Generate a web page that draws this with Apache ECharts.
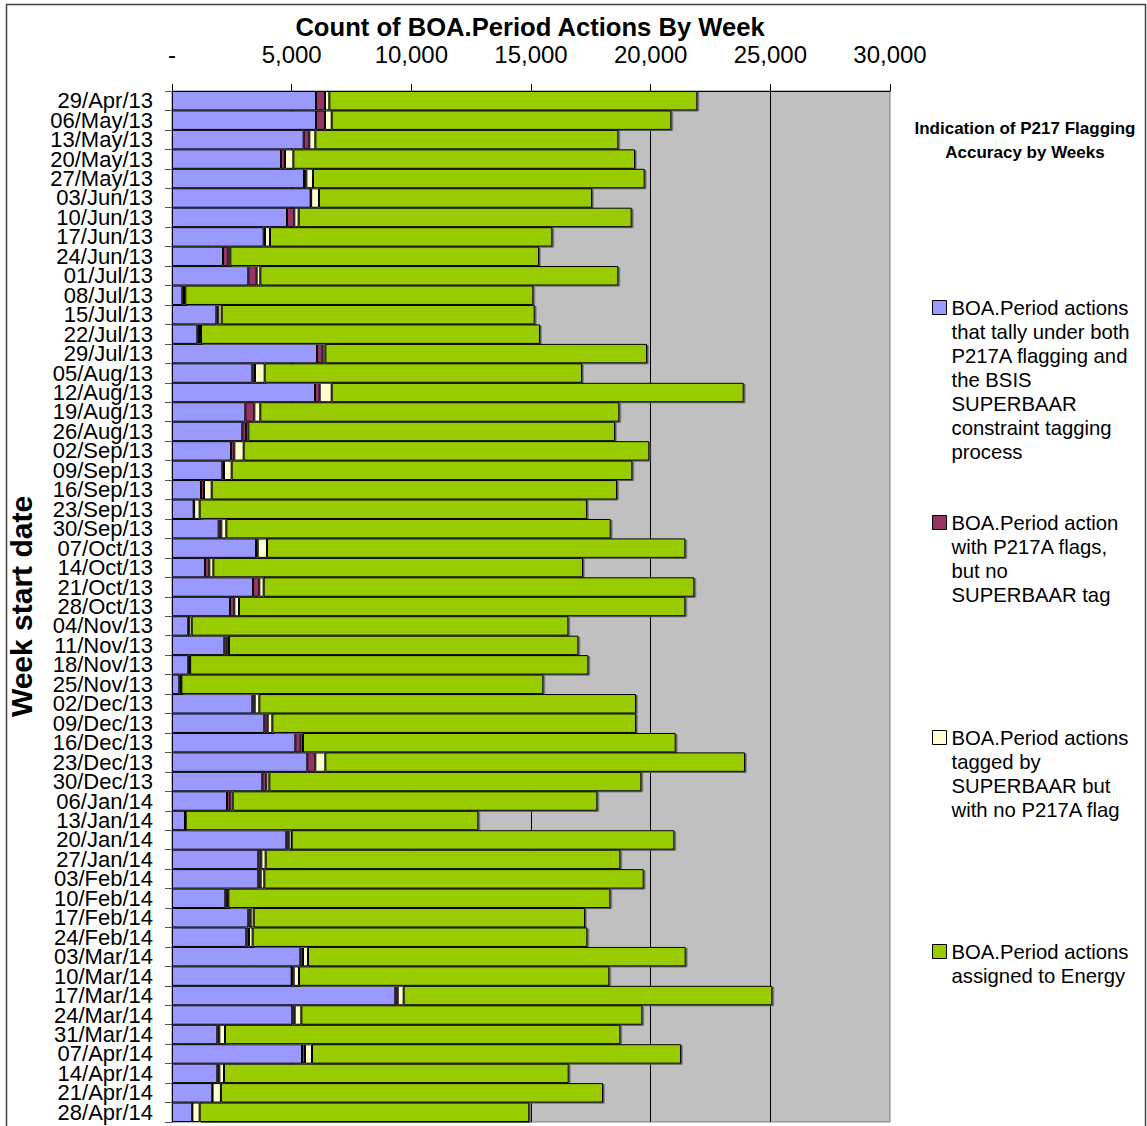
<!DOCTYPE html>
<html>
<head>
<meta charset="utf-8">
<script src="https://cdn.jsdelivr.net/npm/echarts@6/dist/echarts.min.js"></script>
<style>
html,body{margin:0;padding:0;background:#fff;}
#chart{width:1147px;height:1126px;}
</style>
</head>
<body>
<div id="chart"></div>
<script>
const categories = ['29/Apr/13','06/May/13','13/May/13','20/May/13','27/May/13','03/Jun/13','10/Jun/13','17/Jun/13','24/Jun/13','01/Jul/13','08/Jul/13','15/Jul/13','22/Jul/13','29/Jul/13','05/Aug/13','12/Aug/13','19/Aug/13','26/Aug/13','02/Sep/13','09/Sep/13','16/Sep/13','23/Sep/13','30/Sep/13','07/Oct/13','14/Oct/13','21/Oct/13','28/Oct/13','04/Nov/13','11/Nov/13','18/Nov/13','25/Nov/13','02/Dec/13','09/Dec/13','16/Dec/13','23/Dec/13','30/Dec/13','06/Jan/14','13/Jan/14','20/Jan/14','27/Jan/14','03/Feb/14','10/Feb/14','17/Feb/14','24/Feb/14','03/Mar/14','10/Mar/14','17/Mar/14','24/Mar/14','31/Mar/14','07/Apr/14','14/Apr/14','21/Apr/14','28/Apr/14'];

const tallyBoth = [6017,6017,5501,4554,5515,5794,4805,3830,2131,3189,432,1853,1059,6058,3357,5975,3064,2939,2465,2103,1212,905,1950,3510,1379,3384,2423,682,2187,682,306,3357,3857,5153,5654,3774,2298,543,4777,3607,3607,2228,3189,3106,5362,5000,9331,5028,1894,5432,1894,1685,850];
const flagNoTag = [376,376,237,167,98,20,306,56,223,348,69,83,69,237,111,195,376,153,139,70,125,20,111,69,181,265,181,20,125,56,70,97,140,223,335,167,139,10,98,125,97,84,98,111,112,83,98,97,84,125,84,10,0];
const tagNoFlag = [181,279,251,349,278,328,181,209,83,153,56,139,84,112,404,502,250,97,390,320,321,230,209,390,167,181,195,120,70,20,15,195,195,98,418,126,98,20,125,181,153,42,125,153,208,223,250,279,236,293,195,348,306];
const energy = [15376,14191,12660,14276,13859,11407,13915,11796,12897,14959,14540,13079,14164,13440,13259,17215,15001,15321,16950,16742,16936,16184,16060,17480,15446,17995,18650,15739,14597,16638,15124,15738,15195,15571,17535,15544,15237,12226,15989,14820,15851,15961,13844,13984,15781,12967,15405,14248,16519,15418,14402,15966,13773];

const seriesNames = [
  'BOA.Period actions that tally under both P217A flagging and the BSIS SUPERBAAR constraint tagging process',
  'BOA.Period action with P217A flags, but no SUPERBAAR tag',
  'BOA.Period actions tagged by SUPERBAAR but with no P217A flag',
  'BOA.Period actions assigned to Energy'
];
const legendLines = [
  ['BOA.Period actions','that tally under both','P217A flagging and','the BSIS','SUPERBAAR','constraint tagging','process'],
  ['BOA.Period action','with P217A flags,','but no','SUPERBAAR tag'],
  ['BOA.Period actions','tagged by','SUPERBAAR but','with no P217A flag'],
  ['BOA.Period actions','assigned to Energy']
];
const seriesValues = [tallyBoth, flagNoTag, tagNoFlag, energy];
const seriesColors = ['#9999FF','#993366','#FFFFCC','#99CC00'];
const xTicks = [0,5000,10000,15000,20000,25000,30000];

const FONT = '"Liberation Sans", Arial, sans-serif';
const LH = 24;
const legendFirstLineY = [307, 522, 737, 951];

const chart = echarts.init(document.getElementById('chart'), null, {renderer: 'svg'});

const legends = seriesNames.map((name, i) => {
  const n = legendLines[i].length;
  const T = n * LH;
  return {
    show: true,
    orient: 'vertical',
    left: 932,
    top: legendFirstLineY[i] - LH / 2,
    padding: 0,
    itemWidth: 14,
    itemHeight: T,
    itemGap: 0,
    icon: 'path://M0,5L14,5L14,19L0,19Z M0,0 M14,' + T,
    symbolKeepAspect: false,
    selectedMode: false,
    itemStyle: {borderColor: '#000', borderWidth: 1, shadowBlur: 0, shadowOffsetX: 0, shadowOffsetY: 0, shadowColor: 'transparent'},
    textStyle: {fontFamily: FONT, fontSize: 20.3, lineHeight: LH, color: '#000'},
    formatter: (nm) => legendLines[seriesNames.indexOf(nm)].join('\n'),
    data: [name]
  };
});

const option = {
  backgroundColor: '#fff',
  animation: false,
  title: [
    {
      text: 'Count of BOA.Period Actions By Week',
      left: 530, top: 14, padding: 0,
      textAlign: 'center',
      textStyle: {fontFamily: FONT, fontSize: 25.6, fontWeight: 'bold', color: '#000'}
    },
    {
      text: 'Indication of P217 Flagging\nAccuracy by Weeks',
      left: 1025, top: 116, padding: 0,
      textAlign: 'center',
      textStyle: {fontFamily: FONT, fontSize: 17, fontWeight: 'bold', color: '#000', lineHeight: 24}
    }
  ],
  legend: legends,
  grid: {
    left: 172, right: 257, top: 91, bottom: 4,
    show: true, backgroundColor: '#C0C0C0', borderColor: '#808080', borderWidth: 1,
    containLabel: false, outerBoundsMode: 'none'
  },
  xAxis: {
    type: 'value',
    position: 'top',
    min: xTicks[0], max: xTicks[xTicks.length - 1], interval: 5000,
    axisLine: {show: true, lineStyle: {color: '#000', width: 1}},
    axisTick: {show: true, length: 7, lineStyle: {color: '#000'}},
    axisLabel: {
      margin: 25, fontFamily: FONT, fontSize: 24, color: '#000',
      formatter: v => v === 0 ? '-' : v.toLocaleString('en-US')
    },
    splitLine: {show: true, showMaxLine: false, lineStyle: {color: '#000', width: 1}}
  },
  yAxis: {
    type: 'category',
    data: categories,
    inverse: true,
    name: 'Week start date',
    nameLocation: 'middle',
    nameRotate: 90,
    nameGap: 136,
    nameMoveOverlap: false,
    nameTextStyle: {fontFamily: FONT, fontSize: 30, fontWeight: 'bold', color: '#000'},
    axisLine: {show: true, lineStyle: {color: '#000', width: 1}},
    axisTick: {show: true, length: 7, lineStyle: {color: '#555'}},
    axisLabel: {interval: 0, margin: 19, fontFamily: FONT, fontSize: 22, lineHeight: 19, color: '#000'},
    splitLine: {show: false}
  },
  series: seriesNames.map((name, i) => ({
    name: name,
    type: 'bar',
    stack: 'total',
    barCategoryGap: '0%',
    data: seriesValues[i],
    itemStyle: Object.assign(
      {color: seriesColors[i], borderColor: '#000', borderWidth: 1},
      i === 3 ? {shadowColor: '#555', shadowBlur: 0, shadowOffsetX: 1.5, shadowOffsetY: 1} : {}
    ),
    emphasis: {disabled: true}
  })),
  graphic: [
    {
      type: 'rect',
      shape: {x: 6.5, y: 4.5, width: 1139, height: 1130},
      style: {fill: 'none', stroke: '#404040', lineWidth: 1.5},
      silent: true, z: 100
    }
  ]
};

chart.setOption(option);
</script>
</body>
</html>
